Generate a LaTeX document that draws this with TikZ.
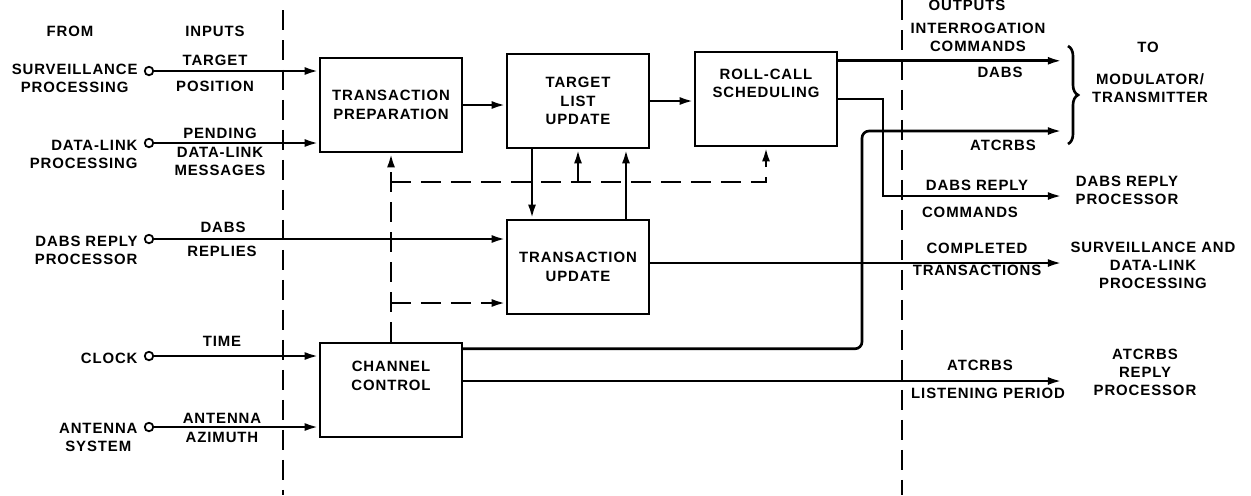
\documentclass[tikz,border=0pt]{standalone}
\usepackage{fontspec}
\setmainfont{Liberation Sans}[LetterSpace=6]
\usetikzlibrary{arrows.meta, positioning, calc, decorations.pathreplacing}

\begin{document}
\begin{tikzpicture}[
  x=0.02cm, y=-0.02cm,
  block/.style   = {rectangle, draw, line width=1.4pt,
                    minimum width=2.84cm, minimum height=1.88cm,
                    align=center, font=\fontsize{8.5}{10.5}\selectfont\bfseries},
  lbl/.style     = {font=\fontsize{8.5}{10.2}\selectfont\bfseries, align=center, inner sep=0pt},
  port/.style    = {circle, draw, line width=1pt, fill=white, inner sep=0pt, minimum size=0.17cm},
  arr/.style     = {-{Latex[length=8pt,width=4.5pt]}, line width=1.5pt},
  darr/.style    = {arr, dash pattern=on 0.4cm off 0.2cm},
  divider/.style = {line width=1.6pt, dash pattern=on 0.4cm off 0.2cm}
]
\useasboundingbox (0,0) rectangle (1251,495);

% ── Column dividers ──────────────────────────────────────────────────────────
\coordinate (dlt) at (283,10);  \coordinate (dlb) at (283,495);
\coordinate (drt) at (902,0);   \coordinate (drb) at (902,495);
\draw[divider] (dlt) -- (dlb);
\draw[divider] (drt) -- (drb);

% ── Processing blocks ────────────────────────────────────────────────────────
\node[block] (tp)  at (391,105) {TRANSACTION\\PREPARATION};
\node[block] (tlu) at (578,101) {TARGET\\LIST\\UPDATE};
\node[block] (rcs) at (766,99)  {ROLL-CALL\\SCHEDULING\\[0.25cm]};
\node[block] (tu)  at (578,267) {TRANSACTION\\UPDATE};
\node[block] (cc)  at (391,390) {CHANNEL\\CONTROL\\[0.2cm]};

% ── Input ports (left) ───────────────────────────────────────────────────────
\node[port] (sp)  at (149,71)  {};
\node[port] (dl)  at (149,143) {};
\node[port] (drp) at (149,239) {};
\node[port] (clk) at (149,356) {};
\node[port] (ant) at (149,427) {};

\node[lbl, left=0.12cm of sp, yshift=-0.14cm] (spl) {SURVEILLANCE\\PROCESSING};
\node[lbl, left=0.12cm of dl, yshift=-0.22cm, align=right] (dll) {DATA-LINK\\PROCESSING};
\node[lbl, left=0.12cm of drp, yshift=-0.22cm, align=right] (drpl) {DABS REPLY\\PROCESSOR};
\node[lbl, left=0.12cm of clk, yshift=-0.04cm] (clkl) {CLOCK};
\node[lbl, left=0.12cm of ant, yshift=-0.2cm] (antl) {ANTENNA\\SYSTEM};

% ── Headings ─────────────────────────────────────────────────────────────────
\node[lbl] (from) at (70,31)  {FROM};
\node[lbl] (inp)  at (215,31) {INPUTS};
\node[lbl] (outp) at (967,5)  {OUTPUTS};
\node[lbl] (tohd) at (1148,47) {TO};

% ── Input labels ─────────────────────────────────────────────────────────────
\node[lbl] at (215,60)  {TARGET};
\node[lbl] at (215,86)  {POSITION};
\node[lbl] at (220,133) {PENDING};
\node[lbl] at (220,161) {DATA-LINK\\MESSAGES};
\node[lbl] at (223,227) {DABS};
\node[lbl] at (222,251) {REPLIES};
\node[lbl] at (222,341) {TIME};
\node[lbl] at (222,418) {ANTENNA};
\node[lbl] at (222,437) {AZIMUTH};

% ── Input arrows ─────────────────────────────────────────────────────────────
\draw[arr] (sp)  -- (sp -| tp.west);
\draw[arr] (dl)  -- (dl -| tp.west);
\draw[arr] (drp) -- (drp -| tu.west);
\draw[arr] (clk) -- (clk -| cc.west);
\draw[arr] (ant) -- (ant -| cc.west);

% ── Block chain ──────────────────────────────────────────────────────────────
\draw[arr] (tp.east)  -- (tp.east -| tlu.west);
\draw[arr] (tlu.east) -- (tlu.east -| rcs.west);
\draw[arr] ([xshift=-0.92cm]tlu.south) -- ([xshift=-0.92cm]tu.north);
\draw[arr] ([xshift=0.96cm]tu.north) -- ([xshift=0.96cm]tlu.south);

% ── Channel control (dashed) ─────────────────────────────────────────────────
\coordinate (cj) at (391,182);
\coordinate (cm) at (578,182);
\coordinate (cr) at (766,182);
\coordinate (ct) at (391,303);
\draw[darr] (cc.north) -- (tp.south);
\draw[darr] (cj) -- (cr) -- (rcs.south);
\draw[darr] (ct) -- (ct -| tu.west);
\draw[arr]  (cm) -- (tlu.south);

% ── Outputs ──────────────────────────────────────────────────────────────────
\coordinate (outx) at (1062,0);
\coordinate (kdr)  at (883,196);
\coordinate (kat)  at (862,131);
\draw[arr] ([yshift=-0.2cm]rcs.north east) -- ([yshift=-0.2cm]rcs.north east -| outx);
\draw[arr] (rcs.east) -| (kdr) -- (kdr -| outx);
\draw[arr, rounded corners=4pt] ([yshift=-0.14cm]cc.north east) -| (kat) -- (kat -| outx);
\draw[arr] ([yshift=0.08cm]tu.east) -- ([yshift=0.08cm]tu.east -| outx);
\draw[arr] ([yshift=0.18cm]cc.east) -- ([yshift=0.18cm]cc.east -| outx);

% ── Output labels ────────────────────────────────────────────────────────────
\node[lbl] at (978,37)  {INTERROGATION\\COMMANDS};
\node[lbl] at (1000,72) {DABS};
\node[lbl] at (1003,145) {ATCRBS};
\node[lbl] at (977,185) {DABS REPLY};
\node[lbl] at (970,212) {COMMANDS};
\node[lbl] at (977,248) {COMPLETED};
\node[lbl] at (977,270) {TRANSACTIONS};
\node[lbl] at (980,365) {ATCRBS};
\node[lbl] at (988,393) {LISTENING PERIOD};

% ── Destinations ─────────────────────────────────────────────────────────────
\coordinate (bt) at (1068,46);
\coordinate (bb) at (1068,144);
\draw[line width=1.5pt, decorate, decoration={brace, amplitude=0.2cm}] (bt) -- (bb);
\node[lbl] (modt) at (1150,88)  {MODULATOR/\\TRANSMITTER};
\node[lbl] (drpo) at (1127,190) {DABS REPLY\\PROCESSOR};
\node[lbl] (sdlp) at (1153,265) {SURVEILLANCE AND\\DATA-LINK\\PROCESSING};
\node[lbl] (arpo) at (1145,372) {ATCRBS\\REPLY\\PROCESSOR};
\end{tikzpicture}
\end{document}
